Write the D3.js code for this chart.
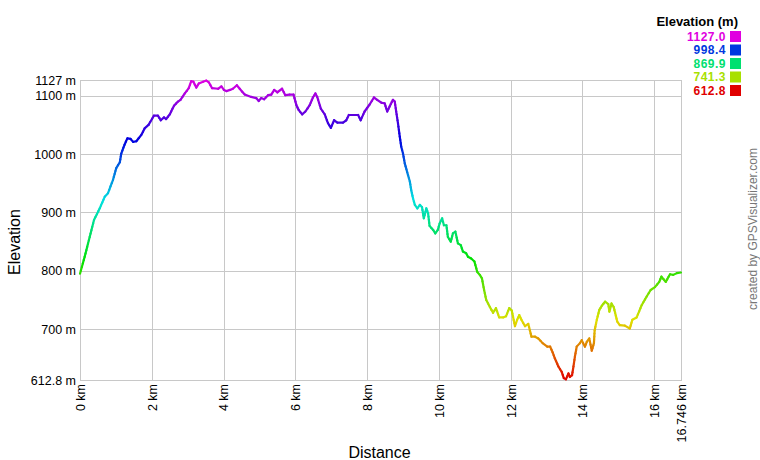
<!DOCTYPE html>
<html><head><meta charset="utf-8">
<script src="https://cdn.jsdelivr.net/npm/d3@7"></script>
<style>
html,body{margin:0;padding:0;background:#fff;}
svg{display:block;font-family:Arial,"Liberation Sans",sans-serif;}
</style></head>
<body>
<svg id="c" width="760" height="460"></svg>
<script>
const distKm = [0,0.13,0.27,0.39,0.55,0.69,0.78,0.92,1.01,1.11,1.15,1.24,1.32,1.41,1.48,1.57,1.71,1.80,1.91,2.06,
2.17,2.25,2.34,2.40,2.50,2.62,2.73,2.80,2.92,3.03,3.10,3.16,3.24,3.31,3.43,3.52,3.59,3.68,3.85,3.94,
4.01,4.08,4.18,4.26,4.37,4.45,4.59,4.77,4.91,4.98,5.05,5.13,5.24,5.33,5.41,5.50,5.63,5.72,5.84,5.95,
6.03,6.09,6.19,6.28,6.40,6.49,6.56,6.61,6.71,6.82,6.91,6.99,7.08,7.17,7.33,7.42,7.49,7.65,7.75,7.82,
7.93,8.07,8.19,8.28,8.40,8.49,8.56,8.66,8.72,8.77,8.81,8.86,8.91,8.95,9.00,9.05,9.14,9.19,9.23,9.28,
9.33,9.40,9.47,9.53,9.58,9.65,9.70,9.74,9.84,9.90,9.97,10.02,10.09,10.14,10.21,10.25,10.33,10.39,10.46,10.53,
10.61,10.67,10.76,10.81,10.90,10.99,11.07,11.14,11.20,11.26,11.32,11.42,11.51,11.59,11.68,11.79,11.87,11.96,12.03,12.12,
12.18,12.24,12.30,12.40,12.49,12.58,12.68,12.77,12.89,13.02,13.10,13.17,13.23,13.33,13.42,13.48,13.54,13.61,13.65,13.71,
13.75,13.79,13.84,13.93,13.98,14.02,14.07,14.12,14.19,14.26,14.32,14.34,14.40,14.47,14.54,14.63,14.72,14.75,14.81,14.87,
14.97,15.04,15.18,15.32,15.39,15.51,15.65,15.79,15.90,16.02,16.14,16.20,16.32,16.44,16.53,16.63,16.746];
const elevM = [795,824,858,887,907,927,933,956,976,986,1001,1016,1027,1026,1021,1022,1033,1044,1050,1066,
1066,1058,1063,1060,1068,1083,1090,1093,1104,1113,1125,1124,1114,1121,1124,1126,1123,1113,1112,1116,
1110,1108,1110,1112,1118,1112,1102,1098,1096,1091,1096,1094,1101,1102,1110,1106,1112,1101,1102,1102,
1084,1076,1068,1073,1084,1097,1104,1098,1078,1068,1053,1045,1058,1054,1054,1058,1067,1067,1067,1058,
1073,1085,1097,1093,1088,1087,1073,1086,1093,1090,1073,1053,1030,1013,1001,984,964,953,938,924,
913,907,913,909,890,907,898,877,870,864,870,881,890,878,878,858,850,864,867,847,
844,833,830,824,821,816,798,793,787,767,750,738,728,736,720,720,722,736,732,705,
716,724,716,705,709,687,687,684,676,670,670,660,650,636,627,616,614,624,618,621,
636,653,670,676,681,676,670,678,684,663,676,698,716,733,740,747,743,730,744,738,
713,707,706,701,716,720,741,756,767,772,781,790,781,794,793,796,797];

const xTicks = [0,2,4,6,8,10,12,14,16,16.746];
const xTickLabels = ["0 km","2 km","4 km","6 km","8 km","10 km","12 km","14 km","16 km","16.746 km"];
const yTicks = [612.8,700,800,900,1000,1100,1127];
const yTickLabels = ["612.8 m","700 m","800 m","900 m","1000 m","1100 m","1127 m"];
const legendValues = [1127.0,998.4,869.9,741.3,612.8];
const legendTitle = "Elevation (m)";
const xTitle = "Distance", yTitle = "Elevation";
const credit = "created by GPSVisualizer.com";

const minE = 612.8, maxE = 1127, maxD = 16.746;
const L = 80, R = 681, T = 80, B = 380;
const svg = d3.select("#c");
const x = d3.scaleLinear().domain([0,maxD]).range([L,R]);
const y = d3.scaleLinear().domain([minE,maxE]).range([B,T]);
const hue = d3.scaleLinear().domain([minE,maxE]).range([0,300]);
const col = e => d3.hsl(hue(Math.max(minE,Math.min(maxE,e))),1,0.44).formatHex();

// grid
const grid = svg.append("g").attr("stroke","#c8c8c8").attr("stroke-width",1).attr("shape-rendering","crispEdges");
xTicks.forEach(t=>grid.append("line").attr("x1",Math.round(x(t))+0.5).attr("x2",Math.round(x(t))+0.5).attr("y1",T).attr("y2",B+0.5));
yTicks.forEach(t=>grid.append("line").attr("x1",L).attr("x2",R+0.5).attr("y1",Math.round(y(t))+0.5).attr("y2",Math.round(y(t))+0.5));

// axes (labels only) via d3 axes
const yAxis = d3.axisLeft(y).tickValues(yTicks).tickFormat((d,i)=>yTickLabels[i]).tickSize(0).tickPadding(4);
const gy = svg.append("g").attr("transform",`translate(${L},0)`).call(yAxis);
gy.select(".domain").remove();
gy.selectAll("text").attr("font-size","12.5px").attr("fill","#000").attr("font-family","Arial,'Liberation Sans',sans-serif");

const xAxis = d3.axisBottom(x).tickValues(xTicks).tickFormat((d,i)=>xTickLabels[i]).tickSize(0);
const gx = svg.append("g").attr("transform",`translate(0,${B})`).call(xAxis);
gx.select(".domain").remove();
gx.selectAll("text").attr("font-size","12.5px").attr("fill","#000").attr("font-family","Arial,'Liberation Sans',sans-serif")
  .attr("transform","rotate(-90)").attr("text-anchor","end").attr("x",-4).attr("y",0).attr("dy","0.35em");

// profile line colored by elevation
const pts = distKm.map((d,i)=>[d,elevM[i]]);
const lineG = svg.append("g").attr("stroke-width",2.2).attr("stroke-linecap","round").attr("fill","none");
for(let i=0;i<pts.length-1;i++){
  const a=pts[i], b=pts[i+1];
  const n = Math.max(1, Math.ceil(Math.abs(b[1]-a[1])/6));
  for(let k=0;k<n;k++){
    const t0=k/n, t1=(k+1)/n;
    const d0=a[0]+(b[0]-a[0])*t0, e0=a[1]+(b[1]-a[1])*t0;
    const d1=a[0]+(b[0]-a[0])*t1, e1=a[1]+(b[1]-a[1])*t1;
    lineG.append("line").attr("x1",x(d0)).attr("y1",y(e0)).attr("x2",x(d1)).attr("y2",y(e1)).attr("stroke",col((e0+e1)/2));
  }
}

// axis titles
svg.append("text").attr("x",(L+R)/2-1).attr("y",458).attr("text-anchor","middle").attr("font-size","16px").text(xTitle);
svg.append("text").attr("transform",`translate(20,${(T+B)/2+12}) rotate(-90)`).attr("text-anchor","middle").attr("font-size","16px").text(yTitle);

// legend
svg.append("text").attr("x",738).attr("y",26).attr("text-anchor","end").attr("font-size","13px").attr("font-weight","bold").text(legendTitle);
legendValues.forEach((v,i)=>{
  const cy = 36.5 + i*13.5;
  svg.append("text").attr("x",726).attr("y",cy+4.3).attr("text-anchor","end").attr("font-size","12px").attr("font-weight","bold")
    .attr("letter-spacing","0.5px").attr("fill",col(v)).text(v.toFixed(1));
  svg.append("rect").attr("x",730).attr("y",cy-5.5).attr("width",11).attr("height",11).attr("fill",col(v));
});

// credit
svg.append("text").attr("transform","translate(757,229) rotate(-90)").attr("text-anchor","middle").attr("font-size","12px").attr("fill","#777").text(credit);
</script>
</body></html>
